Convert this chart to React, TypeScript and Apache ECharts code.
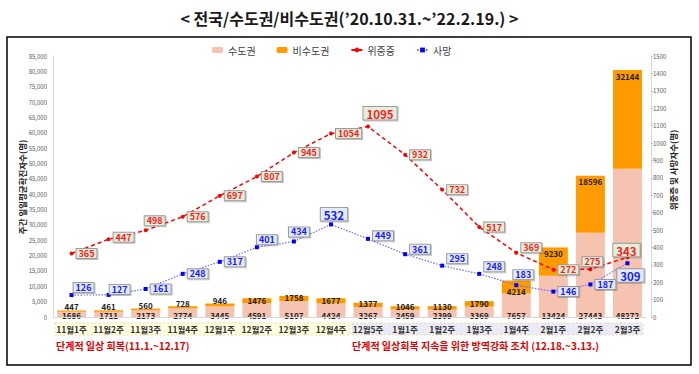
import React, { useEffect, useRef } from 'react';
import * as echarts from 'echarts';

const FONT = '"Noto Sans CJK KR", "Noto Sans", sans-serif';

// ---- data ----
const categories = ['11월1주', '11월2주', '11월3주', '11월4주', '12월1주', '12월2주', '12월3주', '12월4주', '12월5주', '1월1주', '1월2주', '1월3주', '1월4주', '2월1주', '2월2주', '2월3주'];
const capitalCases = [1686, 1711, 2173, 2774, 3445, 4591, 5107, 4424, 3267, 2459, 2399, 3369, 7657, 13424, 27443, 48272];
const nonCapitalCases = [447, 461, 560, 728, 946, 1476, 1758, 1677, 1377, 1046, 1130, 1790, 4214, 9230, 18596, 32144];
const severeCases = [365, 447, 498, 576, 697, 807, 945, 1054, 1095, 932, 732, 517, 369, 272, 275, 343];
const deathCases = [126, 127, 161, 248, 317, 401, 434, 532, 449, 361, 295, 248, 183, 146, 187, 309];
const seriesNames = ['수도권', '비수도권', '위중증', '사망'];

// ---- label placement (style only) ----
// [position, distance, offsetY]
const nonCapPlacement: [string, number, number][] = [
  ['top', 0, 0], ['top', 0, 0], ['top', -1, 0], ['top', -1, 0], ['top', -1, 0],
  ['insideTop', -2, 0], ['insideTop', -2, 0], ['insideTop', -2, 0], ['insideTop', -3, 0], ['insideTop', -4, 0], ['insideTop', -4, 0], ['insideTop', -2, 0],
  ['insideBottom', 1, 3], ['insideTop', 2, 0], ['insideTop', 2, 0], ['insideTop', 2, 0],
];
// [position, offsetX, offsetY, big]
const severePlacement: [string, number, number, boolean][] = [
  ['right', 0, 0, false], ['right', 0, -2, false], ['top', 9, 0, false], ['right', 0, 0, false],
  ['right', 0, 0, false], ['right', 0, 0, false], ['right', 0, 0, false], ['right', 0, 0, false],
  ['top', 12, -2, true], ['right', 0, 0, false], ['right', 0, 0, false], ['right', 0, 0, false],
  ['right', 0, -5, false], ['right', 0, 0, false], ['top', 2, 2, false], ['top', -1, 4, true],
];
const deathPlacement: [string, number, number, boolean][] = [
  ['top', 12, 2, false], ['top', 11, 4, false], ['right', 0, 0, false], ['right', 0, 0, false],
  ['right', 0, 0, false], ['top', 10, 2, false], ['top', 5, 0, false], ['top', 3, 1, true],
  ['right', 0, -3, false], ['right', 0, -5, false], ['right', 0, -7, false], ['right', 0, -7, false],
  ['top', 7, -1, false], ['right', 0, 0, false], ['right', 0, 0, false], ['bottom', 3, 1, true],
];

function lineLabel(p: [string, number, number, boolean], color: string, bg: string) {
  return {
    show: true,
    position: p[0],
    offset: [p[1], p[2]],
    distance: 3,
    color,
    fontFamily: FONT,
    fontWeight: 'bold',
    fontSize: p[3] ? 11.5 : 9,
    backgroundColor: bg,
    borderColor: '#9a9a9a',
    borderWidth: 1,
    padding: p[3] ? [1, 3, 0, 3] : [0, 2, 0, 2],
    shadowColor: 'rgba(0,0,0,0.25)',
    shadowOffsetX: 1,
    shadowOffsetY: 1,
    shadowBlur: 1,
  };
}

export default function App() {
  const ref = useRef<HTMLDivElement>(null);
  useEffect(() => {
    const chart = echarts.init(ref.current!, null, { renderer: 'svg' });
    const option: any = {
      animation: false,
      backgroundColor: '#ffffff',
      textStyle: { fontFamily: FONT },
      legend: {
        data: seriesNames,
        left: 207,
        top: 40,
        itemWidth: 11,
        itemHeight: 6,
        itemGap: 21,
        textStyle: { fontSize: 10, color: '#404040', fontFamily: FONT },
      },
      grid: { left: 53, right: 53, top: 56, bottom: 57, containLabel: false },
      xAxis: {
        type: 'category',
        data: categories,
        axisLine: { show: true, lineStyle: { color: '#d9d9d9' } },
        axisTick: { show: false },
        axisLabel: { margin: 8, fontSize: 8.5, fontWeight: 'bold', color: '#333', fontFamily: FONT, interval: 0 },
        z: 5,
      },
      yAxis: [
        {
          type: 'value', min: 0, max: 85000, interval: 5000,
          axisLine: { show: true, lineStyle: { color: '#d9d9d9' } },
          axisTick: { show: false },
          splitLine: { show: false },
          axisLabel: {
            fontSize: 6, color: '#595959', margin: 6,
            formatter: (v: number) => v.toLocaleString('en-US'),
          },
        },
        {
          type: 'value', min: 0, max: 1500, interval: 100, position: 'right', offset: 5,
          axisLine: { show: true, lineStyle: { color: '#d9d9d9' } },
          axisTick: { show: true, length: 2, lineStyle: { color: '#bfbfbf' } },
          splitLine: { show: false },
          axisLabel: { fontSize: 6, color: '#595959', margin: 2, formatter: (v: number) => String(v) },
        },
      ],
      series: [
        {
          name: seriesNames[0], type: 'bar', stack: 'cases', barWidth: 29,
          itemStyle: { color: '#F6C3B1' },
          data: capitalCases,
          label: {
            show: true, position: 'insideBottom', distance: 0, offset: [0, 2],
            fontSize: 8, fontWeight: 'bold', color: '#222', fontFamily: FONT,
          },
          z: 2,
        },
        {
          name: seriesNames[1], type: 'bar', stack: 'cases', barWidth: 29,
          itemStyle: { color: '#FF9B00' },
          data: nonCapitalCases.map((v, i) => ({
            value: v,
            label: { position: nonCapPlacement[i][0], distance: nonCapPlacement[i][1], offset: [0, nonCapPlacement[i][2]] },
          })),
          label: { show: true, fontSize: 8, fontWeight: 'bold', color: '#222', fontFamily: FONT },
          z: 2,
        },
        {
          name: seriesNames[2], type: 'line', yAxisIndex: 1,
          symbol: 'circle', symbolSize: 4,
          itemStyle: { color: '#FF0000' },
          lineStyle: { color: '#FF0000', width: 1.5, type: [4, 3] },
          data: severeCases.map((v, i) => ({
            value: v,
            label: lineLabel(severePlacement[i], '#FF1A1A', '#E4EFDA'),
          })),
          z: 10,
        },
        {
          name: seriesNames[3], type: 'line', yAxisIndex: 1,
          symbol: 'rect', symbolSize: 4,
          itemStyle: { color: '#0000FF' },
          lineStyle: { color: '#6B6BFF', width: 1.2, type: [1.5, 1.5] },
          data: deathCases.map((v, i) => ({
            value: v,
            label: lineLabel(deathPlacement[i], '#1A1AFF', '#E2ECF8'),
          })),
          z: 9,
        },
      ],
      graphic: [
        {
          type: 'text', left: 'center', top: 10,
          style: {
            text: '< 전국/수도권/비수도권(’20.10.31.~’22.2.19.) >',
            fontSize: 16, fontWeight: 'bold', fill: '#1a1a1a', fontFamily: FONT,
          },
        },
        {
          type: 'rect', shape: { x: 7, y: 37, width: 684, height: 328 },
          style: { fill: 'none', stroke: '#000', lineWidth: 1.5 }, z: -5,
        },
        {
          type: 'rect', shape: { x: 55, y: 323, width: 295, height: 12 },
          style: { fill: '#FFFFDE', stroke: '#F0D58E', lineWidth: 0.8, lineDash: [2, 2] }, z: -10,
        },
        {
          type: 'rect', shape: { x: 352, y: 323, width: 291, height: 12 },
          style: { fill: '#EBEBF8', stroke: '#F0D58E', lineWidth: 0.8, lineDash: [2, 2] }, z: -10,
        },
        {
          type: 'text', x: 22, y: 187, rotation: Math.PI / 2,
          style: {
            text: '주간 일일평균확진자수(명)', fontSize: 8.5, fontWeight: 'bold', fill: '#222',
            fontFamily: FONT, align: 'center', verticalAlign: 'middle',
          },
        },
        {
          type: 'text', x: 673, y: 170, rotation: Math.PI / 2,
          style: {
            text: '위중증 및 사망자수(명)', fontSize: 8.5, fontWeight: 'bold', fill: '#222',
            fontFamily: FONT, align: 'center', verticalAlign: 'middle',
          },
        },
        {
          type: 'text', x: 56, y: 345,
          style: {
            text: '단계적 일상 회복(11.1.~12.17)', fontSize: 10, fontWeight: 'bold', fill: '#E00000',
            fontFamily: FONT, align: 'left', verticalAlign: 'middle',
          },
        },
        {
          type: 'text', x: 352, y: 345,
          style: {
            text: '단계적 일상회복 지속을 위한 방역강화 조치 (12.18.~3.13.)', fontSize: 10, fontWeight: 'bold', fill: '#E00000',
            fontFamily: FONT, align: 'left', verticalAlign: 'middle',
          },
        },
      ],
    };
    chart.setOption(option);
    return () => chart.dispose();
  }, []);
  return <div ref={ref} style={{ position: 'absolute', left: 0, top: 0, width: 699, height: 374, background: '#fff' }} />;
}
